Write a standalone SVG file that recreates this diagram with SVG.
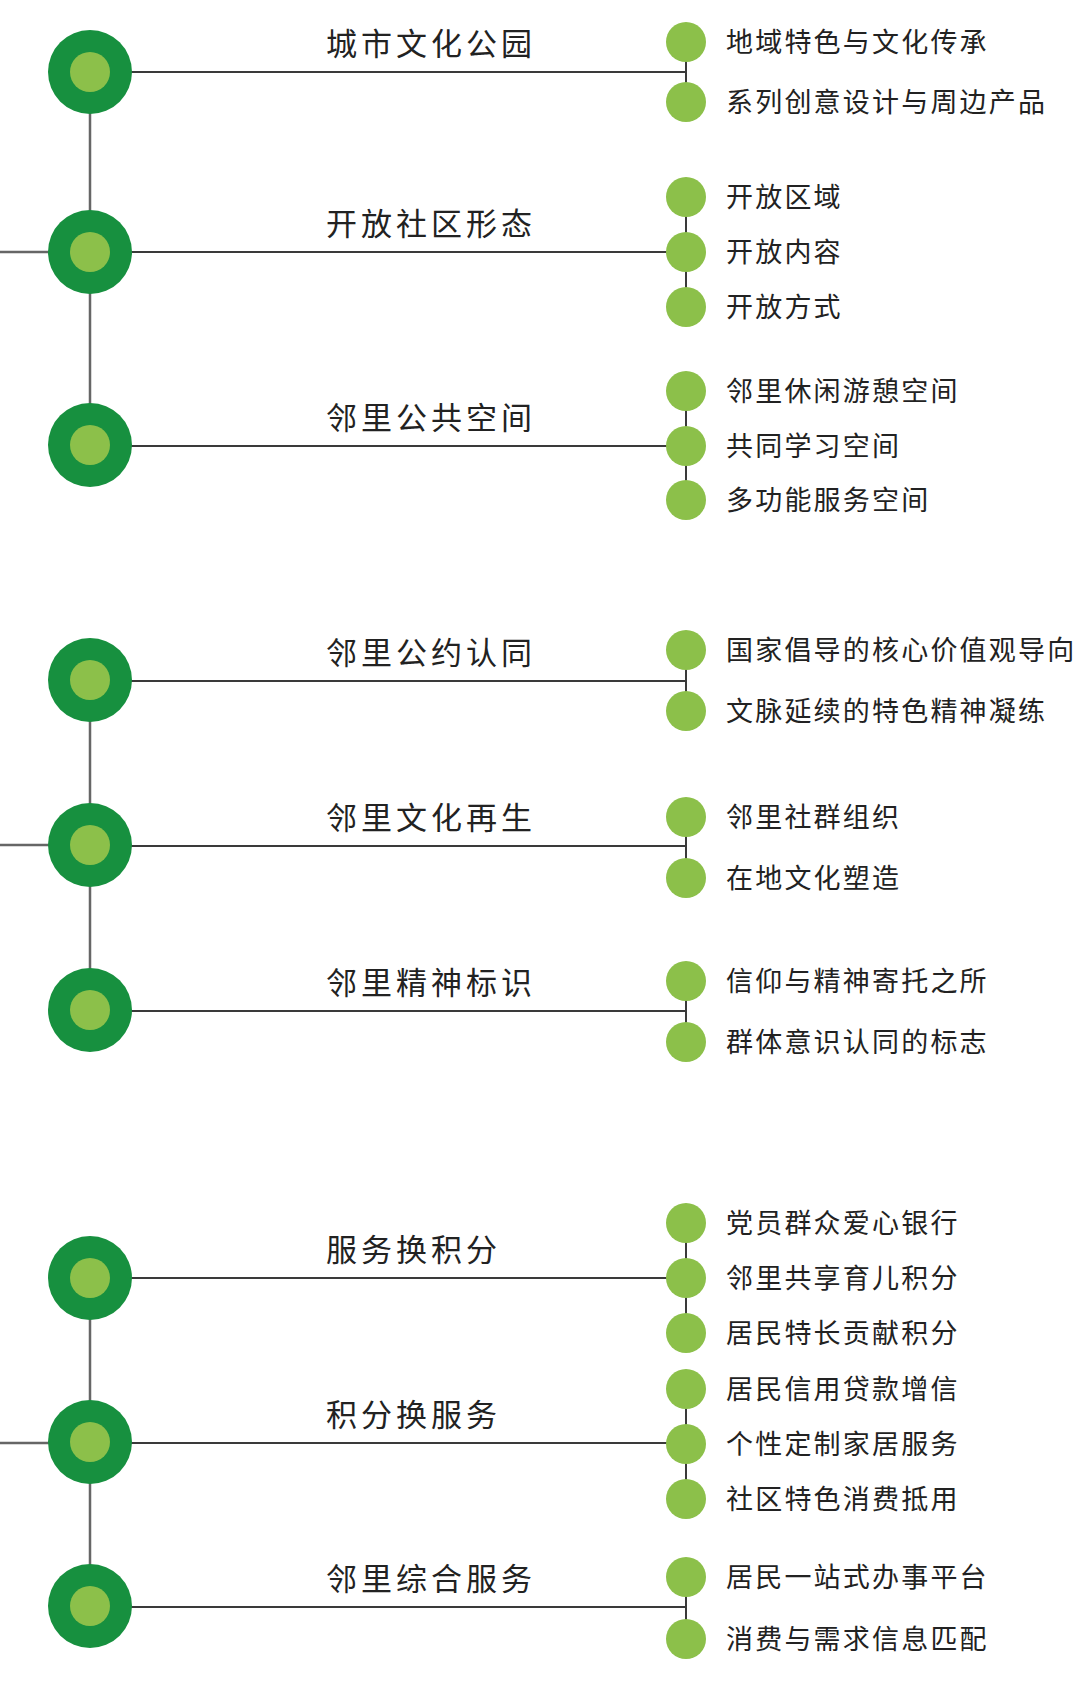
<svg xmlns="http://www.w3.org/2000/svg" width="1080" height="1692" viewBox="0 0 1080 1692">
<style>
.trunk{stroke:#666;stroke-width:2.5;fill:none}
.link{stroke:#3a3a3a;stroke-width:2;fill:none}
.outer{fill:#17903f}
.inner{fill:#8cc04a}
.leaf{fill:#8cc04a}
.main{font-family:"Noto Sans CJK SC","Noto Sans",sans-serif;font-size:31px;letter-spacing:4px;fill:#222;font-weight:400}
.sub{font-family:"Noto Sans CJK SC","Noto Sans",sans-serif;font-size:27px;letter-spacing:2.2px;fill:#222;font-weight:400}
</style>
<rect width="1080" height="1692" fill="#fff"/>
<g id="connectors">
<path class="trunk" d="M90 72V445M90 680V1010M90 1278V1607"/>
<path class="trunk" d="M0 252H90M0 845H90M0 1443H90"/>
<path class="link" d="M90 72H686M686 42V102"/>
<path class="link" d="M90 252H686M686 197V307"/>
<path class="link" d="M90 446H686M686 391V500"/>
<path class="link" d="M90 681H686M686 650V711"/>
<path class="link" d="M90 846H686M686 817V878"/>
<path class="link" d="M90 1011H686M686 981V1042"/>
<path class="link" d="M90 1278H686M686 1223V1333"/>
<path class="link" d="M90 1443H686M686 1389V1499"/>
<path class="link" d="M90 1607H686M686 1577V1639"/>
</g>
<g id="n-a1"><circle class="outer" cx="90" cy="72" r="42"/><circle class="inner" cx="90" cy="72" r="20"/><text class="main" x="326" y="55">城市文化公园</text></g>
<g id="n-a1-1"><circle class="leaf" cx="686" cy="42" r="20"/><text class="sub" x="726" y="52">地域特色与文化传承</text></g>
<g id="n-a1-2"><circle class="leaf" cx="686" cy="102" r="20"/><text class="sub" x="726" y="112">系列创意设计与周边产品</text></g>

<g id="n-a2"><circle class="outer" cx="90" cy="252" r="42"/><circle class="inner" cx="90" cy="252" r="20"/><text class="main" x="326" y="235">开放社区形态</text></g>
<g id="n-a2-1"><circle class="leaf" cx="686" cy="197" r="20"/><text class="sub" x="726" y="207">开放区域</text></g>
<g id="n-a2-2"><circle class="leaf" cx="686" cy="252" r="20"/><text class="sub" x="726" y="262">开放内容</text></g>
<g id="n-a2-3"><circle class="leaf" cx="686" cy="307" r="20"/><text class="sub" x="726" y="317">开放方式</text></g>

<g id="n-a3"><circle class="outer" cx="90" cy="445" r="42"/><circle class="inner" cx="90" cy="445" r="20"/><text class="main" x="326" y="429">邻里公共空间</text></g>
<g id="n-a3-1"><circle class="leaf" cx="686" cy="391" r="20"/><text class="sub" x="726" y="401">邻里休闲游憩空间</text></g>
<g id="n-a3-2"><circle class="leaf" cx="686" cy="446" r="20"/><text class="sub" x="726" y="456">共同学习空间</text></g>
<g id="n-a3-3"><circle class="leaf" cx="686" cy="500" r="20"/><text class="sub" x="726" y="510">多功能服务空间</text></g>

<g id="n-b1"><circle class="outer" cx="90" cy="680" r="42"/><circle class="inner" cx="90" cy="680" r="20"/><text class="main" x="326" y="664">邻里公约认同</text></g>
<g id="n-b1-1"><circle class="leaf" cx="686" cy="650" r="20"/><text class="sub" x="726" y="660">国家倡导的核心价值观导向</text></g>
<g id="n-b1-2"><circle class="leaf" cx="686" cy="711" r="20"/><text class="sub" x="726" y="721">文脉延续的特色精神凝练</text></g>

<g id="n-b2"><circle class="outer" cx="90" cy="845" r="42"/><circle class="inner" cx="90" cy="845" r="20"/><text class="main" x="326" y="829">邻里文化再生</text></g>
<g id="n-b2-1"><circle class="leaf" cx="686" cy="817" r="20"/><text class="sub" x="726" y="827">邻里社群组织</text></g>
<g id="n-b2-2"><circle class="leaf" cx="686" cy="878" r="20"/><text class="sub" x="726" y="888">在地文化塑造</text></g>

<g id="n-b3"><circle class="outer" cx="90" cy="1010" r="42"/><circle class="inner" cx="90" cy="1010" r="20"/><text class="main" x="326" y="994">邻里精神标识</text></g>
<g id="n-b3-1"><circle class="leaf" cx="686" cy="981" r="20"/><text class="sub" x="726" y="991">信仰与精神寄托之所</text></g>
<g id="n-b3-2"><circle class="leaf" cx="686" cy="1042" r="20"/><text class="sub" x="726" y="1052">群体意识认同的标志</text></g>

<g id="n-c1"><circle class="outer" cx="90" cy="1278" r="42"/><circle class="inner" cx="90" cy="1278" r="20"/><text class="main" x="326" y="1261">服务换积分</text></g>
<g id="n-c1-1"><circle class="leaf" cx="686" cy="1223" r="20"/><text class="sub" x="726" y="1233">党员群众爱心银行</text></g>
<g id="n-c1-2"><circle class="leaf" cx="686" cy="1278" r="20"/><text class="sub" x="726" y="1288">邻里共享育儿积分</text></g>
<g id="n-c1-3"><circle class="leaf" cx="686" cy="1333" r="20"/><text class="sub" x="726" y="1343">居民特长贡献积分</text></g>

<g id="n-c2"><circle class="outer" cx="90" cy="1442" r="42"/><circle class="inner" cx="90" cy="1442" r="20"/><text class="main" x="326" y="1426">积分换服务</text></g>
<g id="n-c2-1"><circle class="leaf" cx="686" cy="1389" r="20"/><text class="sub" x="726" y="1399">居民信用贷款增信</text></g>
<g id="n-c2-2"><circle class="leaf" cx="686" cy="1444" r="20"/><text class="sub" x="726" y="1454">个性定制家居服务</text></g>
<g id="n-c2-3"><circle class="leaf" cx="686" cy="1499" r="20"/><text class="sub" x="726" y="1509">社区特色消费抵用</text></g>

<g id="n-c3"><circle class="outer" cx="90" cy="1606" r="42"/><circle class="inner" cx="90" cy="1606" r="20"/><text class="main" x="326" y="1590">邻里综合服务</text></g>
<g id="n-c3-1"><circle class="leaf" cx="686" cy="1577" r="20"/><text class="sub" x="726" y="1587">居民一站式办事平台</text></g>
<g id="n-c3-2"><circle class="leaf" cx="686" cy="1639" r="20"/><text class="sub" x="726" y="1649">消费与需求信息匹配</text></g>
</svg>
